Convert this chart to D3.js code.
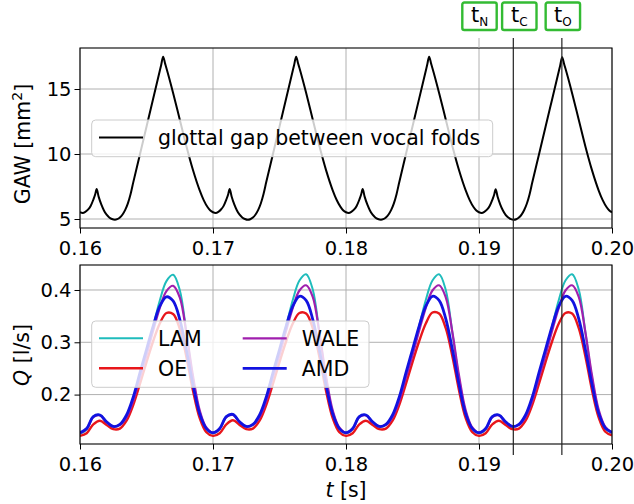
<!DOCTYPE html>
<html>
<head>
<meta charset="utf-8">
<script src="https://cdn.jsdelivr.net/npm/d3@7"></script>
<style>
body{margin:0;background:#fff;}
svg text{font-family:"DejaVu Sans",sans-serif;fill:#000;}
</style>
</head>
<body>
<svg id="chart" width="634" height="504"></svg>
<script>
// ---- data ----
const xTicks = [0.16, 0.17, 0.18, 0.19, 0.20];
const gawTicks = [5, 10, 15];
const flowTicks = [0.2, 0.3, 0.4];

// glottal area waveform, time [s] / area [mm^2]
const gawTime = [
  0.1600,0.1602,0.1604,0.1606,0.1608,0.1610,0.16115,0.16125,0.1614,0.1616,0.1618,0.1620,0.1622,0.1624,0.16263,0.1628,0.1630,0.1632,0.1634,0.1636,0.1638,0.1640,0.1645,0.1650,0.1655,0.1660,0.1661,0.16625,0.1664,0.1665,0.1670,0.1675,0.1680,0.1685,0.1690,0.1693,0.1696,0.1698,
  0.1700,0.1702,0.1704,0.1706,0.1708,0.1710,0.17115,0.17125,0.1714,0.1716,0.1718,0.1720,0.1722,0.1724,0.17263,0.1728,0.1730,0.1732,0.1734,0.1736,0.1738,0.1740,0.1745,0.1750,0.1755,0.1760,0.1761,0.17625,0.1764,0.1765,0.1770,0.1775,0.1780,0.1785,0.1790,0.1793,0.1796,0.1798,
  0.1800,0.1802,0.1804,0.1806,0.1808,0.1810,0.18115,0.18125,0.1814,0.1816,0.1818,0.1820,0.1822,0.1824,0.18263,0.1828,0.1830,0.1832,0.1834,0.1836,0.1838,0.1840,0.1845,0.1850,0.1855,0.1860,0.1861,0.18625,0.1864,0.1865,0.1870,0.1875,0.1880,0.1885,0.1890,0.1893,0.1896,0.1898,
  0.1900,0.1902,0.1904,0.1906,0.1908,0.1910,0.19115,0.19125,0.1914,0.1916,0.1918,0.1920,0.1922,0.1924,0.19263,0.1928,0.1930,0.1932,0.1934,0.1936,0.1938,0.1940,0.1945,0.1950,0.1955,0.1960,0.1961,0.19625,0.1964,0.1965,0.1970,0.1975,0.1980,0.1985,0.1990,0.1993,0.1996,0.1998,
  0.2000
];
const gawArea = [
  5.52,5.47,5.55,5.72,6.00,6.48,6.92,7.30,6.72,6.12,5.66,5.33,5.12,5.00,4.95,4.99,5.12,5.35,5.70,6.20,6.90,7.80,9.95,12.10,14.25,16.40,16.83,17.48,16.95,16.60,14.70,12.65,10.60,8.75,7.20,6.45,5.90,5.65,
  5.52,5.47,5.55,5.73,6.01,6.49,6.93,7.31,6.73,6.12,5.66,5.33,5.12,5.00,4.94,4.98,5.11,5.35,5.70,6.21,6.92,7.82,9.97,12.12,14.27,16.42,16.85,17.49,16.96,16.61,14.71,12.66,10.61,8.76,7.21,6.46,5.91,5.65,
  5.52,5.47,5.55,5.72,6.00,6.48,6.92,7.30,6.72,6.12,5.66,5.33,5.12,5.00,4.95,4.99,5.12,5.35,5.70,6.20,6.91,7.81,9.96,12.11,14.26,16.41,16.84,17.48,16.95,16.60,14.70,12.65,10.60,8.75,7.20,6.45,5.90,5.65,
  5.52,5.47,5.55,5.72,6.00,6.47,6.91,7.29,6.71,6.11,5.65,5.32,5.11,4.99,4.94,4.98,5.11,5.34,5.69,6.19,6.89,7.79,9.93,12.08,14.22,16.36,16.79,17.44,16.92,16.57,14.68,12.63,10.58,8.74,7.19,6.45,5.90,5.65,
  5.52
];

// volume flow through the glottis, one sample every 0.5 ms
const flowTime = [
  0.1600,0.1605,0.1610,0.1615,0.1620,0.1625,0.1630,0.1635,0.1640,0.1645,0.1650,0.1655,0.1660,0.1665,0.1670,0.1675,0.1680,0.1685,0.1690,0.1695,
  0.1700,0.1705,0.1710,0.1715,0.1720,0.1725,0.1730,0.1735,0.1740,0.1745,0.1750,0.1755,0.1760,0.1765,0.1770,0.1775,0.1780,0.1785,0.1790,0.1795,
  0.1800,0.1805,0.1810,0.1815,0.1820,0.1825,0.1830,0.1835,0.1840,0.1845,0.1850,0.1855,0.1860,0.1865,0.1870,0.1875,0.1880,0.1885,0.1890,0.1895,
  0.1900,0.1905,0.1910,0.1915,0.1920,0.1925,0.1930,0.1935,0.1940,0.1945,0.1950,0.1955,0.1960,0.1965,0.1970,0.1975,0.1980,0.1985,0.1990,0.1995,
  0.2000
];
const flowLAM = [
  0.125,0.133,0.158,0.161,0.147,0.139,0.142,0.158,0.190,0.236,0.280,0.330,0.380,0.417,0.429,0.400,0.318,0.230,0.167,0.135,
  0.126,0.134,0.158,0.162,0.147,0.139,0.142,0.158,0.191,0.237,0.281,0.331,0.381,0.418,0.430,0.401,0.318,0.230,0.167,0.135,
  0.126,0.134,0.158,0.161,0.147,0.139,0.142,0.158,0.190,0.236,0.281,0.331,0.381,0.418,0.430,0.400,0.318,0.231,0.167,0.135,
  0.126,0.133,0.158,0.161,0.147,0.139,0.142,0.158,0.190,0.236,0.281,0.331,0.381,0.418,0.430,0.401,0.319,0.231,0.168,0.136,
  0.126
];
const flowOE = [
  0.121,0.126,0.143,0.150,0.142,0.134,0.135,0.150,0.180,0.220,0.262,0.302,0.336,0.356,0.354,0.326,0.272,0.207,0.155,0.128,
  0.121,0.126,0.143,0.151,0.142,0.134,0.135,0.150,0.180,0.220,0.262,0.302,0.336,0.356,0.355,0.327,0.272,0.207,0.155,0.128,
  0.121,0.126,0.143,0.150,0.142,0.134,0.135,0.150,0.180,0.220,0.262,0.302,0.336,0.357,0.355,0.327,0.273,0.208,0.155,0.128,
  0.121,0.126,0.143,0.150,0.142,0.134,0.135,0.150,0.180,0.220,0.262,0.302,0.336,0.356,0.355,0.327,0.273,0.208,0.156,0.129,
  0.122
];
const flowWALE = [
  0.126,0.134,0.157,0.160,0.147,0.139,0.142,0.157,0.188,0.232,0.275,0.322,0.366,0.398,0.408,0.386,0.318,0.235,0.170,0.137,
  0.127,0.134,0.157,0.161,0.147,0.139,0.142,0.157,0.188,0.232,0.275,0.322,0.366,0.399,0.409,0.387,0.318,0.235,0.170,0.137,
  0.127,0.134,0.157,0.160,0.147,0.139,0.142,0.157,0.188,0.232,0.275,0.322,0.366,0.399,0.409,0.386,0.319,0.236,0.170,0.137,
  0.127,0.134,0.157,0.160,0.147,0.139,0.142,0.157,0.188,0.232,0.275,0.322,0.366,0.399,0.409,0.387,0.319,0.236,0.171,0.138,
  0.127
];
const flowAMD = [
  0.127,0.135,0.158,0.161,0.148,0.139,0.143,0.161,0.195,0.241,0.286,0.331,0.369,0.387,0.379,0.344,0.285,0.218,0.163,0.135,
  0.127,0.135,0.158,0.162,0.148,0.139,0.143,0.161,0.195,0.241,0.286,0.331,0.369,0.388,0.380,0.344,0.285,0.218,0.163,0.135,
  0.127,0.135,0.158,0.161,0.148,0.139,0.143,0.161,0.195,0.241,0.286,0.331,0.369,0.388,0.380,0.345,0.286,0.219,0.163,0.135,
  0.127,0.135,0.158,0.161,0.148,0.139,0.143,0.161,0.195,0.241,0.286,0.331,0.369,0.388,0.380,0.345,0.286,0.219,0.164,0.136,
  0.128
];
const seriesNames = ["LAM", "OE", "WALE", "AMD"];
const seriesColors = ["#1fbcbc", "#e8161b", "#a01fae", "#1212e0"];
const seriesWidths = [2, 2.4, 2.2, 2.8];

// instants marked above the plots
const markerTimes = [0.19, 0.19258, 0.19623];
const markerSubs = ["N", "C", "O"];

class GlottisFigure{
  constructor(){
    this.svg = d3.select("#chart");
    this.x = d3.scaleLinear().domain([0.16, 0.20]).range([80, 612]);
    this.tickSize = 19.5;
    this.textSize = 20.5;
  }

  drawPanel(top, bottom, y, yTicks, yFormat, id){
    let self = this;
    let g = this.svg.append("g");
    g.append("clipPath").attr("id", id)
      .append("rect").attr("x", 80).attr("y", top).attr("width", 532).attr("height", bottom - top);

    // grid
    g.selectAll(".vgrid").data(xTicks).enter().append("line")
      .attr("x1", d => self.x(d)).attr("x2", d => self.x(d))
      .attr("y1", top).attr("y2", bottom)
      .attr("stroke", "#b0b0b0").attr("stroke-width", 1);
    g.selectAll(".hgrid").data(yTicks).enter().append("line")
      .attr("x1", 80).attr("x2", 612)
      .attr("y1", d => y(d)).attr("y2", d => y(d))
      .attr("stroke", "#b0b0b0").attr("stroke-width", 1);

    let xAxis = d3.axisBottom(this.x).tickValues(xTicks).tickFormat(d3.format(".2f"))
      .tickSize(5.5).tickPadding(7.5);
    let yAxis = d3.axisLeft(y).tickValues(yTicks).tickFormat(yFormat)
      .tickSize(5.5).tickPadding(3);
    let xg = g.append("g").attr("transform", "translate(0," + bottom + ")").call(xAxis);
    let yg = g.append("g").attr("transform", "translate(80,0)").call(yAxis);
    [xg, yg].forEach(a => {
      a.attr("font-family", null).attr("font-size", null);
      a.select(".domain").remove();
      a.selectAll("line").attr("stroke", "#000").attr("stroke-width", 1);
      a.selectAll("text").style("font-size", self.tickSize + "px").attr("fill", "#000");
    });

    let plot = g.append("g").attr("clip-path", "url(#" + id + ")");
    g.append("rect").attr("class", "frame")
      .attr("x", 80).attr("y", top).attr("width", 532).attr("height", bottom - top)
      .attr("fill", "none").attr("stroke", "#000").attr("stroke-width", 1.1);
    return {g: g, plot: plot};
  }

  legendBox(g, x0, y0, w, h){
    g.append("rect").attr("x", x0).attr("y", y0).attr("width", w).attr("height", h)
      .attr("rx", 4).attr("ry", 4)
      .attr("fill", "#fff").attr("fill-opacity", 0.8)
      .attr("stroke", "#cccccc").attr("stroke-width", 1);
  }

  drawGaw(){
    let y = d3.scaleLinear().domain([4.308, 18.154]).range([228, 48]);
    let p = this.drawPanel(48, 228, y, gawTicks, d3.format("d"), "clipGaw");
    let line = d3.line().x(d => this.x(d[0])).y(d => y(d[1])).curve(d3.curveMonotoneX);
    p.plot.append("path").datum(d3.zip(gawTime, gawArea))
      .attr("d", line).attr("fill", "none").attr("stroke", "#000").attr("stroke-width", 2);

    let lg = p.g.append("g");
    this.legendBox(lg, 91.7, 120, 401, 36.7);
    lg.append("line").attr("x1", 99).attr("x2", 143).attr("y1", 137.5).attr("y2", 137.5)
      .attr("stroke", "#000").attr("stroke-width", 2);
    lg.append("text").attr("x", 158).attr("y", 144.5).style("font-size", this.textSize + "px")
      .text("glottal gap between vocal folds");

    let lab = this.svg.append("text").attr("transform", "translate(29.5,144) rotate(-90)")
      .attr("text-anchor", "middle").style("font-size", this.textSize + "px");
    lab.append("tspan").text("GAW [mm");
    lab.append("tspan").attr("dy", -8).style("font-size", "14px").text("2");
    lab.append("tspan").attr("dy", 8).text("]");
  }

  drawFlow(){
    let y = d3.scaleLinear().domain([0.1055, 0.4478]).range([444, 265]);
    let p = this.drawPanel(265, 444, y, flowTicks, d3.format(".1f"), "clipFlow");
    let line = d3.line().x(d => this.x(d[0])).y(d => y(d[1])).curve(d3.curveCatmullRom.alpha(0.5));
    let allFlows = [flowLAM, flowOE, flowWALE, flowAMD];
    allFlows.forEach((vals, i) => {
      p.plot.append("path").datum(d3.zip(flowTime, vals))
        .attr("d", line).attr("fill", "none")
        .attr("stroke", seriesColors[i]).attr("stroke-width", seriesWidths[i]);
    });

    // legend, two columns filled column by column
    let lg = p.g.append("g");
    this.legendBox(lg, 91.7, 321, 277.3, 66.3);
    let colX = [99, 242.7], rowY = [338.3, 368.3];
    seriesNames.forEach((name, i) => {
      let cx = colX[Math.floor(i / 2)], cy = rowY[i % 2];
      lg.append("line").attr("x1", cx).attr("x2", cx + 44).attr("y1", cy).attr("y2", cy)
        .attr("stroke", seriesColors[i]).attr("stroke-width", seriesWidths[i]);
      lg.append("text").attr("x", cx + 59).attr("y", cy + 7.4).style("font-size", this.textSize + "px")
        .text(name);
    });

    let lab = this.svg.append("text").attr("transform", "translate(29,355) rotate(-90)")
      .attr("text-anchor", "middle").style("font-size", this.textSize + "px");
    lab.append("tspan").style("font-style", "italic").text("Q");
    lab.append("tspan").text(" [l/s]");

    let xl = this.svg.append("text").attr("x", 346).attr("y", 497)
      .attr("text-anchor", "middle").style("font-size", this.textSize + "px");
    xl.append("tspan").style("font-style", "italic").text("t");
    xl.append("tspan").text(" [s]");
  }

  drawMarkers(){
    let self = this;
    let shift = [0.5, 6, 1];
    markerTimes.forEach((t, i) => {
      let mx = self.x(t);
      self.svg.append("line").attr("x1", mx).attr("x2", mx)
        .attr("y1", 38).attr("y2", i == 0 ? 48 : 455)
        .attr("stroke", i == 0 ? "#b0b0b0" : "#222").attr("stroke-width", i == 0 ? 1 : 1.2);
      let bx = mx + shift[i];
      self.svg.append("rect").attr("x", bx - 17.2).attr("y", 2.5).attr("width", 34.4).attr("height", 27.5)
        .attr("rx", 2).attr("fill", "#fff").attr("stroke", "#33bb33").attr("stroke-width", 2.4);
      let tx = self.svg.append("text").attr("x", bx).attr("y", 21.7).attr("text-anchor", "middle")
        .style("font-size", "21px");
      tx.append("tspan").text("t");
      tx.append("tspan").attr("dy", 4.3).style("font-size", "12px").text(markerSubs[i]);
    });
  }
}

let fig = new GlottisFigure();
fig.drawGaw();
fig.drawFlow();
fig.drawMarkers();
</script>
</body>
</html>
